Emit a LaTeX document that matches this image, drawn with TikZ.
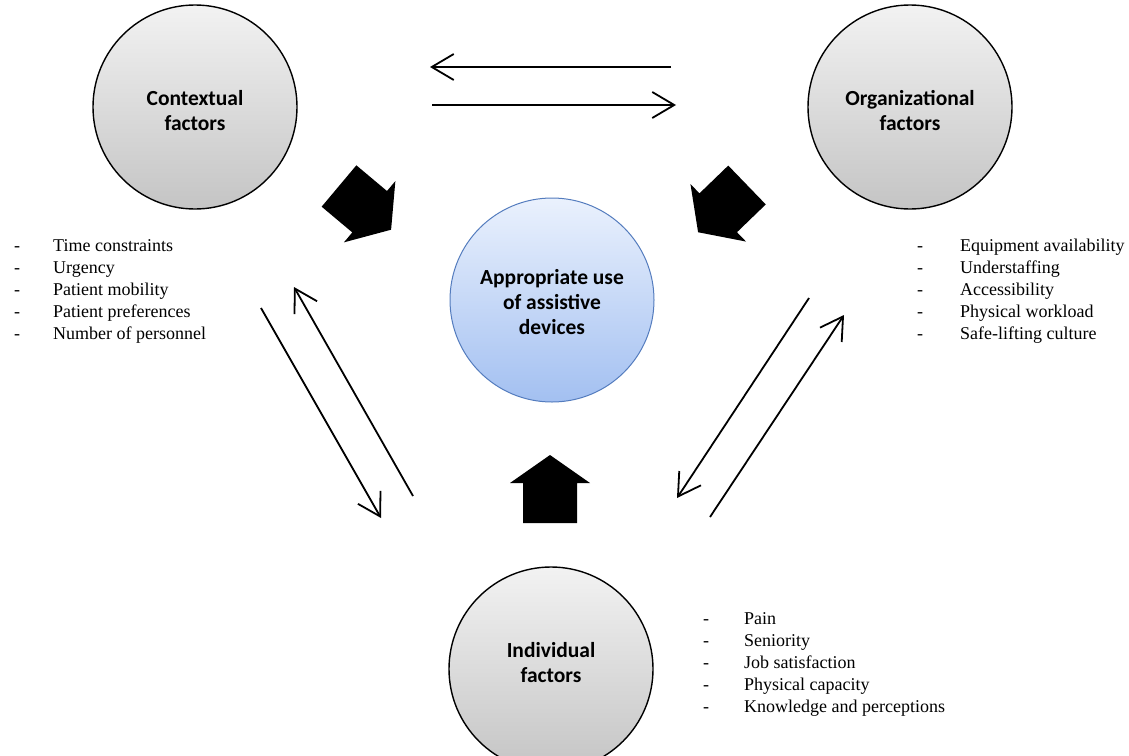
\documentclass[tikz,border=0pt]{standalone}
\usepackage{fontspec}
\setmainfont{Liberation Serif}
\newfontfamily\calibri{Carlito}
\usetikzlibrary{arrows.meta}

\definecolor{bluetop}{RGB}{234,241,253}
\definecolor{bluebot}{RGB}{163,192,241}
\definecolor{blueline}{RGB}{84,124,190}

\tikzset{
  factor/.style={circle, draw=black, line width=1.4pt, minimum size=204pt, inner sep=0pt,
    top color=black!5, bottom color=black!23},
  outcome/.style={factor, draw=blueline, line width=1pt, top color=bluetop, bottom color=bluebot},
  factortext/.style={align=center, yshift=-4pt, font=\calibri\bfseries\fontsize{21.5}{25}\selectfont},
  itemlist/.style={anchor=west, inner sep=0pt, font=\fontsize{18}{22}\selectfont},
  flow/.style={line width=1.8pt, -{Straight Barb[length=22pt,width=26pt]}},
  fatarrow/.pic={\fill[black] (0,-27) -- (40,-27) -- (40,-40) -- (68,0) -- (40,40) -- (40,27) -- (0,27) -- cycle;}
}

\begin{document}
\begin{tikzpicture}[x=1pt, y=-1pt]
\useasboundingbox (0,0) rectangle (1129,755);
\node[factor, label={[factortext]center:{Contextual\\factors}}] (context) at (195,107) {};
\node[factor, label={[factortext]center:{Organizational\\factors}}] (organ) at (910,107) {};
\node[outcome, label={[factortext, yshift=2pt]center:{Appropriate use\\of assistive\\devices}}] (use) at (552,300) {};
\node[factor, label={[factortext, yshift=10pt]center:{Individual\\factors}}] (indiv) at (551,669) {};
% factor lists
\node[itemlist] (contextlist) at (14,291) {\begin{tabular}{@{}p{39pt}@{}l@{}}
- & Time constraints\\
- & Urgency\\
- & Patient mobility\\
- & Patient preferences\\
- & Number of personnel
\end{tabular}};
\node[itemlist] (organlist) at (917,291) {\begin{tabular}{@{}p{43pt}@{}l@{}}
- & Equipment availability\\
- & Understaffing\\
- & Accessibility\\
- & Physical workload\\
- & Safe-lifting culture
\end{tabular}};
\node[itemlist] (indivlist) at (703,664) {\begin{tabular}{@{}p{41pt}@{}l@{}}
- & Pain\\
- & Seniority\\
- & Job satisfaction\\
- & Physical capacity\\
- & Knowledge and perceptions
\end{tabular}};
% influence on appropriate use
\pic[rotate=-40] (contextpush) at (339,186) {fatarrow};
\pic[rotate=-136] (organpush) at (747,185) {fatarrow};
\pic[rotate=90] (indivpush) at (550,523) {fatarrow};
% contextual <-> organizational
\coordinate (oc-s) at (671,67);
\coordinate (oc-e) at (430,67);
\coordinate (co-s) at (432,105);
\coordinate (co-e) at (676,105);
\draw[flow] (oc-s) -- (oc-e);
\draw[flow] (co-s) -- (co-e);
% contextual <-> individual
\coordinate (ci-s) at (261,308);
\coordinate (ci-e) at (381,518);
\coordinate (ic-s) at (413,496);
\coordinate (ic-e) at (294,287);
\draw[flow] (ci-s) -- (ci-e);
\draw[flow] (ic-s) -- (ic-e);
% organizational <-> individual
\coordinate (oi-s) at (809,298);
\coordinate (oi-e) at (677,498);
\coordinate (io-s) at (710,517);
\coordinate (io-e) at (844,315);
\draw[flow] (oi-s) -- (oi-e);
\draw[flow] (io-s) -- (io-e);
\end{tikzpicture}
\end{document}
